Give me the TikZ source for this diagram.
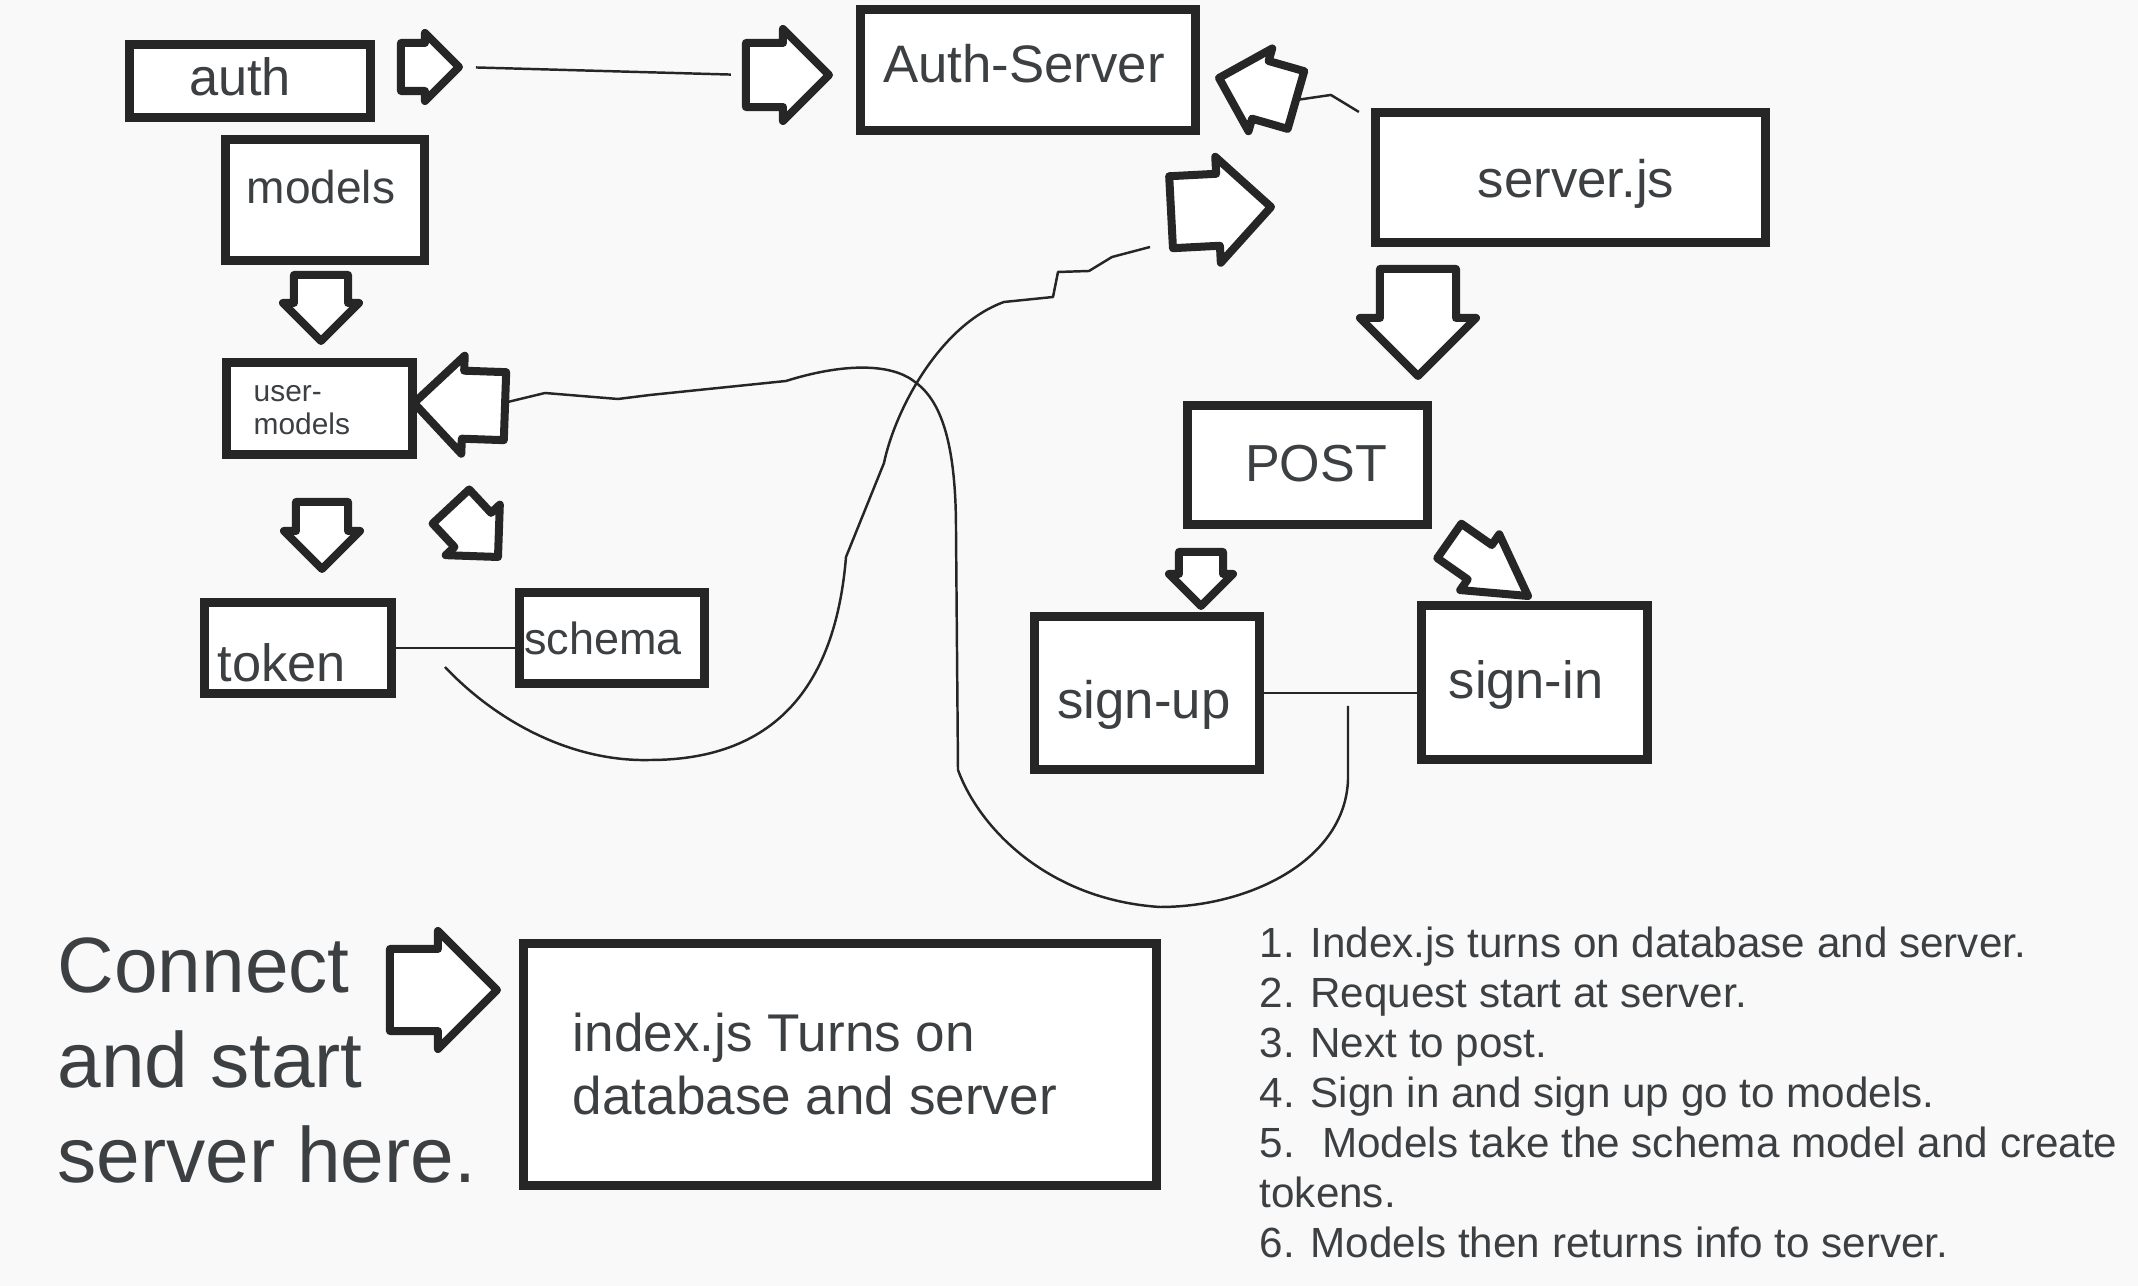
\documentclass[tikz,border=0pt]{standalone}
\usepackage{fontspec}
\setmainfont{Liberation Sans}
\usetikzlibrary{shapes.arrows}
\definecolor{paper}{RGB}{249,249,249}
\definecolor{ink}{RGB}{38,38,38}
\definecolor{fg}{RGB}{60,64,67}
\newcommand{\fsz}[1]{\fontsize{#1pt}{#1pt}\selectfont}

\begin{document}
\begin{tikzpicture}[
x=0.01cm, y=-0.01cm,
box/.style={draw=ink, fill=white, line width=0.095cm, inner sep=0pt},
barrow/.style n args={3}{single arrow, draw=ink, fill=white, line width=0.08cm,
  line join=round, inner xsep=0pt, outer sep=0pt, minimum width=0pt, anchor=tip,
  minimum height=#1, inner ysep=#2, single arrow head extend=#3},
wire/.style={draw=ink, line width=0.7pt, line join=round},
txt/.style={inner sep=0pt, text=fg, anchor=base},
]
\useasboundingbox (0,0) rectangle (2138,1286);
\fill[paper] (0,0) rectangle (2138,1286);

%% left column
% nodes
\node[box, minimum width=2.405cm, minimum height=0.725cm] (auth) at (250,81) {};
\node[txt, font=\fsz{14.9}] (auth-t) at (240,96) {auth};
\node[box, minimum width=1.985cm, minimum height=1.205cm] (models) at (325,200) {};
\node[txt, font=\fsz{13.1}] (models-t) at (321,204) {models};
\node[box, minimum width=1.855cm, minimum height=0.915cm] (usermodels) at (319.5,408.5) {};
\node[txt, anchor=base west, font=\fsz{8.5}] (usermodels-t1) at (253,402) {user-};
\node[txt, anchor=base west, font=\fsz{8.5}] (usermodels-t2) at (253,435) {models};
\node[box, minimum width=1.865cm, minimum height=0.905cm] (token) at (298,648) {};
\node[txt, font=\fsz{14.9}] (token-t) at (282,682) {token};
\node[box, minimum width=1.845cm, minimum height=0.905cm] (schema) at (612,638) {};
\node[txt, font=\fsz{12.8}] (schema-t) at (603,655) {schema};
% arrows
\node[barrow={0.58cm}{0.20cm}{0.10cm}] (a1) at (459,67) {};
\node[barrow={0.66cm}{0.23cm}{0.11cm}, rotate=-90] (a6) at (321,341) {};
\node[barrow={0.91cm}{0.30cm}{0.15cm}, rotate=178] (a5) at (414,403) {};
\node[barrow={0.67cm}{0.22cm}{0.12cm}, rotate=-90] (a7) at (322,569) {};
\node[barrow={0.69cm}{0.21cm}{0.12cm}, rotate=-47] (a8) at (498,557) {};

%% right column
% nodes
\node[box, minimum width=3.345cm, minimum height=1.205cm] (authserver) at (1028,70) {};
\node[txt, font=\fsz{15}] (authserver-t) at (1024,83) {Auth-Server};
\node[box, minimum width=3.895cm, minimum height=1.295cm] (serverjs) at (1570.5,177.5) {};
\node[txt, font=\fsz{15}] (serverjs-t) at (1576,198) {server.js};
\node[box, minimum width=2.395cm, minimum height=1.185cm] (post) at (1307.5,465) {};
\node[txt, font=\fsz{14.8}] (post-t) at (1316,482) {POST};
\node[box, minimum width=2.245cm, minimum height=1.525cm] (signup) at (1147,693) {};
\node[txt, font=\fsz{15}] (signup-t) at (1144,719) {sign-up};
\node[box, minimum width=2.255cm, minimum height=1.535cm] (signin) at (1534.5,682.5) {};
\node[txt, font=\fsz{14.9}] (signin-t) at (1526,699) {sign-in};
% arrows
\node[barrow={0.83cm}{0.28cm}{0.14cm}] (a2) at (829,75) {};
\node[barrow={0.80cm}{0.26cm}{0.13cm}, rotate=164] (a3) at (1219,78) {};
\node[barrow={1.00cm}{0.32cm}{0.17cm}, rotate=3] (a4) at (1271,207) {};
\node[barrow={1.07cm}{0.34cm}{0.20cm}, rotate=-90] (a9) at (1418,376) {};
\node[barrow={0.54cm}{0.18cm}{0.10cm}, rotate=-90] (a10) at (1201,606) {};
\node[barrow={0.96cm}{0.17cm}{0.13cm}, rotate=-35, single arrow tip angle=60] (a11) at (1528,596) {};

%% lines
\coordinate (wire1a) at (1150,247);
\coordinate (wire1b) at (445,667);
\coordinate (wire2b) at (1348,706);
\draw[wire, shorten <=0.17cm, shorten >=0.15cm] (a1.tip) -- (a2.tail);
\draw[wire] (serverjs.north west) ++(-12,4) -- ++(-28,-17) -- (a3.tail);
\draw[wire] (token.east) -- (token.east -| schema.west);
\draw[wire] (signup.east) -- (signup.east -| signin.west);
\draw[wire] (wire1a) -- (1112,257) -- (1089,271) -- (1058,272) -- (1053,297) -- (1004,302)
  .. controls (940,325) and (895,410) .. (884,463) -- (846,557)
  .. controls (836,680) and (780,760) .. (650,760)
  .. controls (570,762) and (495,720) .. (wire1b);
\draw[wire] (a5.tail) ++(2,-4) -- (545,393) -- (618,399) -- (650,395) -- (786,381)
  .. controls (840,364) and (890,362) .. (915,382)
  .. controls (940,400) and (956,440) .. (956,530) -- (958,770)
  .. controls (980,830) and (1050,900) .. (1160,907)
  .. controls (1250,907) and (1345,860) .. (1348,780) -- (wire2b);

%% bottom
\foreach \txtline [count=\i from 0] in {Connect, and start, server here.}
  \node[txt, anchor=base west, font=\fsz{22.3}] (connect\i) at (57, 993+95*\i) {\txtline};
\node[barrow={1.07cm}{0.37cm}{0.18cm}] (a12) at (497,990) {};
\node[box, minimum width=6.325cm, minimum height=2.415cm] (index) at (840,1064.5) {};
\foreach \txtline [count=\i from 0] in {index.js Turns on, database and server}
  \node[txt, anchor=base west, font=\fsz{15.1}] (index-t\i) at (572, 1052+63*\i) {\txtline};
\foreach \txtline [count=\i from 0] in {1. Index.js turns on database and server.,
  2. Request start at server., 3. Next to post., 4. Sign in and sign up go to models.,
  5.~ Models take the schema model and create, tokens., 6. Models then returns info to server.}
  \node[txt, anchor=base west, font=\fsz{12}] (step\i) at (1259, 958+50*\i) {\txtline};
\end{tikzpicture}
\end{document}
